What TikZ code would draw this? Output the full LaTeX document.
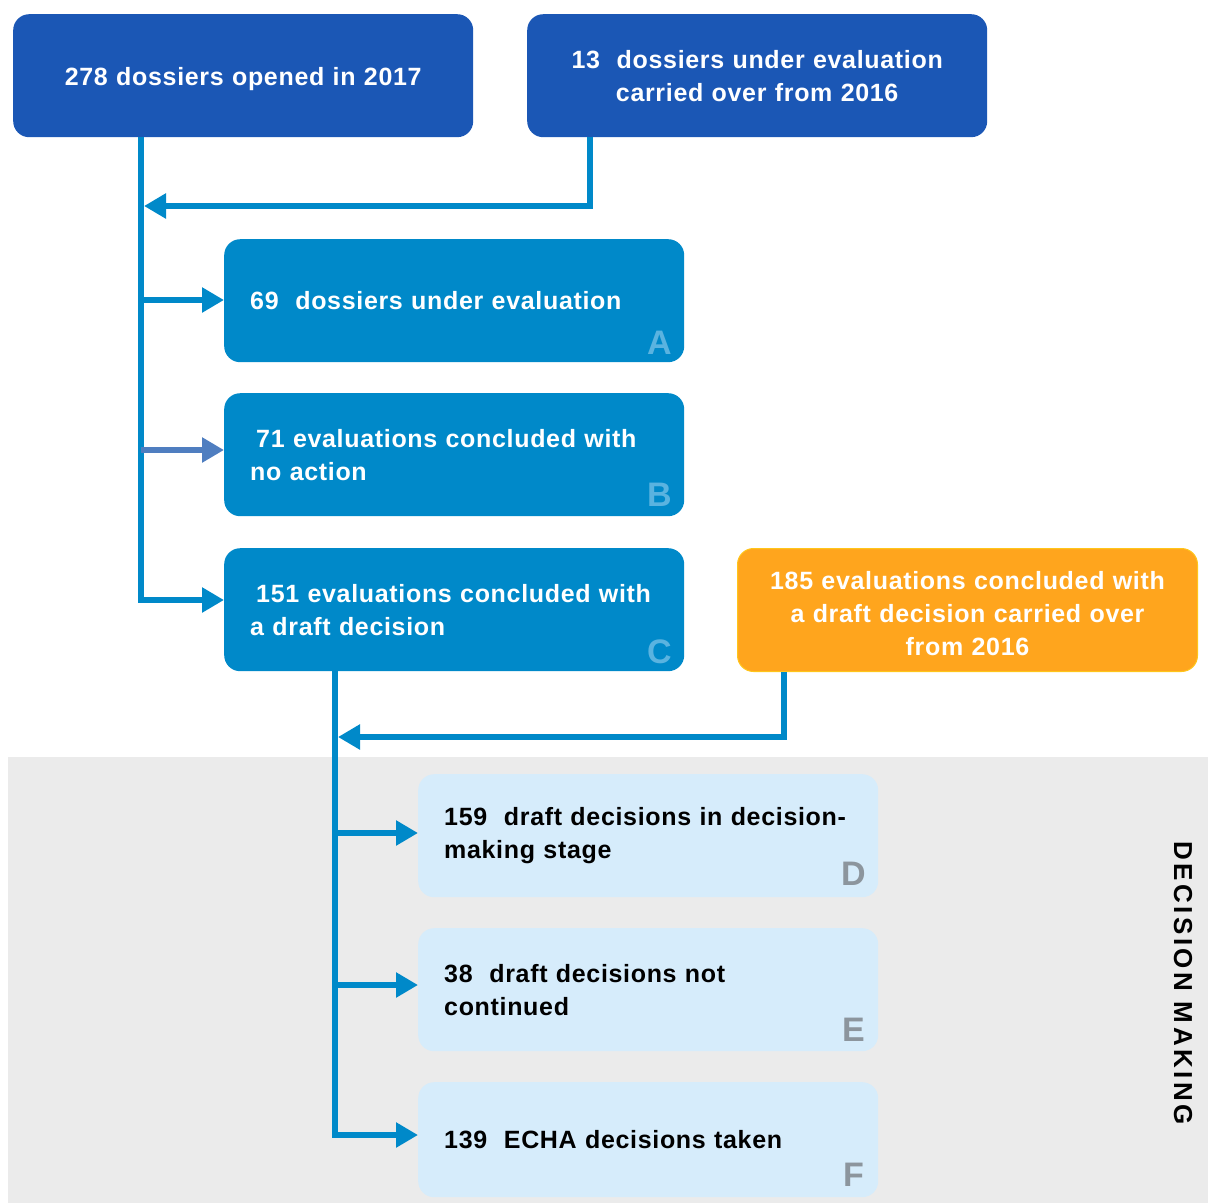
\documentclass[tikz,border=0pt]{standalone}
\usepackage{fontspec}
\setmainfont{Liberation Sans}[LetterSpace=2.7]
\usetikzlibrary{arrows.meta,calc}
\definecolor{dblue}{HTML}{1B57B5}
\definecolor{mblue}{HTML}{0089C9}
\definecolor{lblue}{HTML}{D6ECFB}
\definecolor{orng}{HTML}{FFA51D}
\definecolor{orngline}{HTML}{FFC51A}
\definecolor{bgray}{HTML}{EBEBEB}
\definecolor{lettA}{HTML}{5AB3E0}
\definecolor{lettD}{HTML}{8C959D}
\definecolor{steel}{HTML}{4F7EC0}
\begin{document}
\begin{tikzpicture}[x=1pt,y=-1pt,
  bx/.style={rounded corners=16pt, minimum width=460pt, minimum height=123pt,
    inner xsep=26pt, inner ysep=0pt, text width=408pt, anchor=north west,
    font=\bfseries\fontsize{25}{33}\selectfont},
  topbox/.style={bx, fill=dblue, text=white, align=center},
  midbox/.style={bx, fill=mblue, text=white, align=left},
  lowbox/.style={bx, fill=lblue, text=black, align=left},
  orbox/.style={bx, fill=orng, draw=orngline, line width=1pt, text=white, align=center},
  letA/.style={anchor=center, text=lettA, font=\bfseries\fontsize{34}{34}\selectfont},
  letD/.style={anchor=center, text=lettD, font=\bfseries\fontsize{34}{34}\selectfont},
  flow/.style={draw=mblue, line width=6pt, line join=miter, -{Triangle[length=22pt,width=24pt]}}
]
\useasboundingbox (0,0) rectangle (1208,1203);
\fill[bgray] (8,757) rectangle (1208,1203);

\node[topbox] (b1) at (13,14) {\raisebox{-3pt}[\height][\depth]{278 dossiers opened in 2017}};
\node[topbox] (b2) at (527,14) {13\ \ dossiers under evaluation\\carried over from 2016};
\node[midbox] (A) at (224,239) {69\ \ dossiers under evaluation};
\node[midbox] (B) at (224,393) {\hspace*{6pt}71 evaluations concluded with\\no action};
\node[midbox] (C) at (224,548) {\hspace*{6pt}151 evaluations concluded with\\a draft decision};
\node[orbox] (O) at (737,548) {\raisebox{-4pt}[\height][\depth]{\parbox{408pt}{\centering 185 evaluations concluded with\\a draft decision carried over\\from 2016}}};
\node[lowbox] (D) at (418,774) {159\ \ draft decisions in decision-\\making stage};
\node[lowbox] (E) at (418,928) {38\ \ draft decisions not\\continued};
\node[lowbox, minimum height=115pt] (F) at (418,1082) {139\ \ ECHA decisions taken};

\node[letA] (la) at ($(A.south east)+(-25,-20)$) {A};
\node[letA] (lb) at ($(B.south east)+(-25,-22)$) {B};
\node[letA] (lc) at ($(C.south east)+(-25,-20)$) {C};
\node[letD] (ld) at ($(D.south east)+(-25,-24)$) {D};
\node[letD] (le) at ($(E.south east)+(-25,-22)$) {E};
\node[letD] (lf) at ($(F.south east)+(-25,-23)$) {F};

\node[rotate=-90, anchor=center, font=\bfseries\fontsize{26}{26}\selectfont\addfontfeature{LetterSpace=13.5}] (dm) at (1183,983) {DECISION MAKING};

% first trunk
\coordinate (tA) at (141,300);
\coordinate (tB) at (141,450);
\coordinate (tC) at (141,600);
\coordinate (m1) at (590,206);
\coordinate (m2) at (144,206);
\draw[flow] (b1.south -| tC) -- (tC) -- (C.west |- tC);
\draw[flow] (tA) -- (A.west |- tA);
\draw[flow, draw=steel] (tB) -- (B.west |- tB);
\draw[flow] (b2.south -| m1) -- (m1) -- (m2);

% second trunk
\coordinate (sD) at (335,833);
\coordinate (sE) at (335,985);
\coordinate (sF) at (335,1135);
\coordinate (o1) at (784,737);
\coordinate (o2) at (338,737);
\draw[flow] (C.south -| sF) -- (sF) -- (F.west |- sF);
\draw[flow] (sD) -- (D.west |- sD);
\draw[flow] (sE) -- (E.west |- sE);
\draw[flow] (O.south -| o1) -- (o1) -- (o2);
\end{tikzpicture}
\end{document}
